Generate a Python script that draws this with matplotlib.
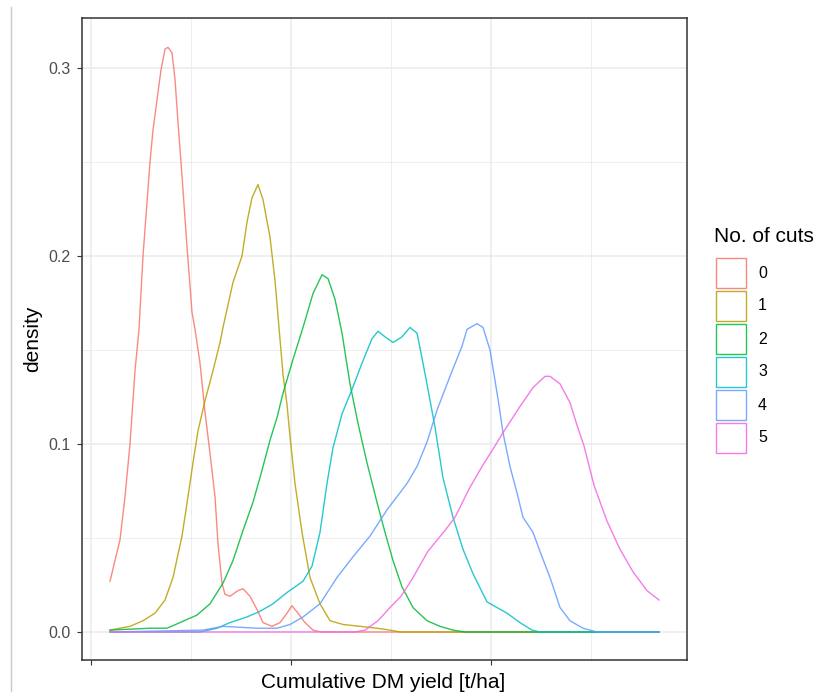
import matplotlib
matplotlib.use("Agg")
import matplotlib.pyplot as plt
from matplotlib.patches import Rectangle
from matplotlib.lines import Line2D

plt.rcParams["font.family"] = ["Liberation Sans", "DejaVu Sans"]

# density curves, one pair of arrays per number of cuts
cut_labels = ["0", "1", "2", "3", "4", "5"]
cut_colors = ["#F8766D", "#B79F00", "#00BA38", "#00BFC4", "#619CFF", "#F564E3"]

x_cut0 = [1.9, 2.9, 3.4, 3.9, 4.4, 4.8, 5.2, 5.9, 6.2, 7.0, 7.4, 7.7, 8.1, 8.4,
          8.7, 9.0, 9.6, 10.1, 10.4, 10.9, 11.4, 11.9, 12.4, 12.7, 13.1, 13.4,
          13.9, 14.7, 15.2, 15.9, 16.6, 17.2, 18.1, 18.9, 19.6, 20.1, 20.7,
          21.4, 22.2, 23.0, 56.8]
y_cut0 = [0.027, 0.049, 0.072, 0.100, 0.139, 0.161, 0.200, 0.250, 0.267, 0.299,
          0.310, 0.311, 0.308, 0.294, 0.271, 0.250, 0.205, 0.170, 0.161, 0.143,
          0.117, 0.095, 0.072, 0.047, 0.026, 0.020, 0.019, 0.022, 0.023, 0.019,
          0.012, 0.005, 0.003, 0.005, 0.010, 0.014, 0.010, 0.005, 0.001, 0.0, 0.0]

x_cut1 = [1.9, 3.9, 5.2, 6.4, 7.4, 8.2, 9.1, 9.7, 10.2, 10.7, 11.4, 12.2, 12.9,
          13.2, 14.2, 15.1, 15.6, 16.1, 16.7, 17.2, 17.9, 18.4, 18.8, 19.2,
          19.6, 19.9, 20.4, 21.1, 21.9, 22.9, 23.9, 25.2, 26.9, 28.6, 29.9,
          30.9, 56.8]
y_cut1 = [0.001, 0.003, 0.006, 0.010, 0.017, 0.029, 0.051, 0.072, 0.090, 0.107,
          0.123, 0.139, 0.154, 0.162, 0.186, 0.200, 0.218, 0.231, 0.238, 0.230,
          0.210, 0.187, 0.162, 0.137, 0.121, 0.104, 0.079, 0.053, 0.029, 0.015,
          0.006, 0.004, 0.003, 0.002, 0.001, 0.0, 0.0]

x_cut2 = [1.9, 5.9, 7.6, 8.9, 10.6, 11.9, 13.2, 14.2, 15.2, 16.2, 17.1, 17.9,
          18.6, 19.2, 20.2, 21.2, 22.2, 23.1, 23.7, 24.4, 25.1, 25.9, 26.7,
          27.6, 28.6, 29.4, 30.2, 31.1, 32.2, 33.6, 34.9, 36.2, 37.4, 56.8]
y_cut2 = [0.001, 0.002, 0.002, 0.005, 0.009, 0.015, 0.026, 0.038, 0.054, 0.069,
          0.086, 0.102, 0.114, 0.127, 0.145, 0.162, 0.180, 0.190, 0.188, 0.177,
          0.159, 0.132, 0.111, 0.090, 0.069, 0.053, 0.038, 0.024, 0.013, 0.006,
          0.003, 0.001, 0.0, 0.0]

x_cut3 = [1.9, 10.9, 12.6, 13.9, 15.6, 16.9, 18.2, 19.6, 21.2, 22.1, 22.9, 23.6,
          24.2, 25.1, 26.1, 27.1, 28.1, 28.7, 29.4, 30.2, 31.1, 31.9, 32.6,
          33.2, 33.7, 34.4, 35.2, 36.2, 37.2, 38.2, 39.6, 41.6, 42.9, 44.1,
          44.9, 56.8]
y_cut3 = [0.0, 0.0, 0.002, 0.005, 0.008, 0.011, 0.015, 0.021, 0.027, 0.035,
          0.053, 0.079, 0.098, 0.116, 0.129, 0.143, 0.156, 0.160, 0.157, 0.154,
          0.157, 0.162, 0.159, 0.143, 0.129, 0.109, 0.082, 0.061, 0.044, 0.031,
          0.016, 0.010, 0.005, 0.001, 0.0, 0.0]

x_cut4 = [1.9, 11.2, 13.2, 16.6, 18.6, 19.9, 21.2, 22.9, 24.6, 26.2, 27.9, 29.6,
          31.6, 32.6, 33.6, 34.6, 35.9, 37.1, 37.6, 38.6, 39.2, 39.9, 40.7,
          41.2, 41.9, 42.6, 43.2, 44.2, 45.1, 45.9, 46.9, 47.9, 49.2, 50.6, 56.8]
y_cut4 = [0.0, 0.001, 0.003, 0.002, 0.002, 0.004, 0.008, 0.015, 0.029, 0.040,
          0.051, 0.065, 0.079, 0.088, 0.101, 0.118, 0.136, 0.152, 0.161, 0.164,
          0.162, 0.150, 0.124, 0.106, 0.088, 0.074, 0.061, 0.053, 0.040, 0.029,
          0.013, 0.006, 0.002, 0.0, 0.0]

x_cut5 = [1.9, 26.4, 27.4, 28.7, 29.9, 31.0, 32.1, 33.7, 35.4, 36.4, 37.9, 39.1,
          40.4, 41.2, 42.9, 44.2, 45.4, 45.9, 46.9, 47.9, 48.6, 49.3, 50.3,
          51.6, 52.9, 54.2, 55.6, 56.8]
y_cut5 = [0.0, 0.0, 0.001, 0.006, 0.013, 0.019, 0.028, 0.043, 0.054, 0.061,
          0.077, 0.088, 0.099, 0.106, 0.120, 0.130, 0.136, 0.136, 0.132, 0.122,
          0.110, 0.099, 0.078, 0.059, 0.044, 0.032, 0.022, 0.017]

y_ticks = [0.0, 0.1, 0.2, 0.3]
y_tick_labels = ["0.0", "0.1", "0.2", "0.3"]
x_ticks = [0, 20, 40]

xs_all = [x_cut0, x_cut1, x_cut2, x_cut3, x_cut4, x_cut5]
ys_all = [y_cut0, y_cut1, y_cut2, y_cut3, y_cut4, y_cut5]

W, H = 817, 698
fig = plt.figure(figsize=(W / 100, H / 100), dpi=100)
ax = fig.add_axes([81.5 / W, 38 / H, 605 / W, 642 / H])

for xs, ys, col in zip(xs_all, ys_all, cut_colors):
    ax.plot(xs, ys, color=col, lw=1.0, alpha=0.85)

ax.set_xlim(-0.95, 59.55)
ax.set_ylim(-0.0149, 0.3266)
ax.set_xticks(x_ticks)
ax.set_xticklabels([])
ax.set_xticks([10, 30, 50], minor=True)
ax.set_yticks(y_ticks)
ax.set_yticklabels(y_tick_labels)
ax.set_yticks([0.05, 0.15, 0.25], minor=True)
ax.grid(which="major", color="#EBEBEB", lw=1.1)
ax.grid(which="minor", color="#EBEBEB", lw=0.6)
ax.set_axisbelow(True)
ax.tick_params(which="minor", length=0)
ax.tick_params(which="major", length=3.6, width=0.8, color="#333333",
               labelsize=11.5, labelcolor="#4D4D4D", pad=4.5)
for s in ax.spines.values():
    s.set_color("#333333")
    s.set_linewidth(1.1)

fig.text(383 / W, 1 - 683 / H, "Cumulative DM yield [t/ha]", fontsize=15,
         ha="center", va="center")
fig.text(33 / W, 1 - 339 / H, "density", fontsize=15, rotation=90,
         ha="center", va="center")

# legend drawn by hand, ggplot style boxes
lax = fig.add_axes([0, 0, 1, 1])
lax.set_xlim(0, W)
lax.set_ylim(H, 0)
lax.axis("off")
lax.text(714, 237, "No. of cuts", fontsize=15, ha="left", va="center")
for i, (lab, col) in enumerate(zip(cut_labels, cut_colors)):
    top = 258 + 33 * i
    lax.add_patch(Rectangle((716.5, top), 30, 30, facecolor="white",
                            edgecolor=col, lw=1.0, alpha=0.85))
    lax.text(758, top + 15, lab, fontsize=11.5, ha="left", va="center")

# thin page border line at left of the screenshot
fig.add_artist(Line2D([11 / W, 11 / W], [0.01, 0.99], color="#C8C8C8", lw=1.0,
                      transform=fig.transFigure))

fig.savefig("out.png", dpi=100)
